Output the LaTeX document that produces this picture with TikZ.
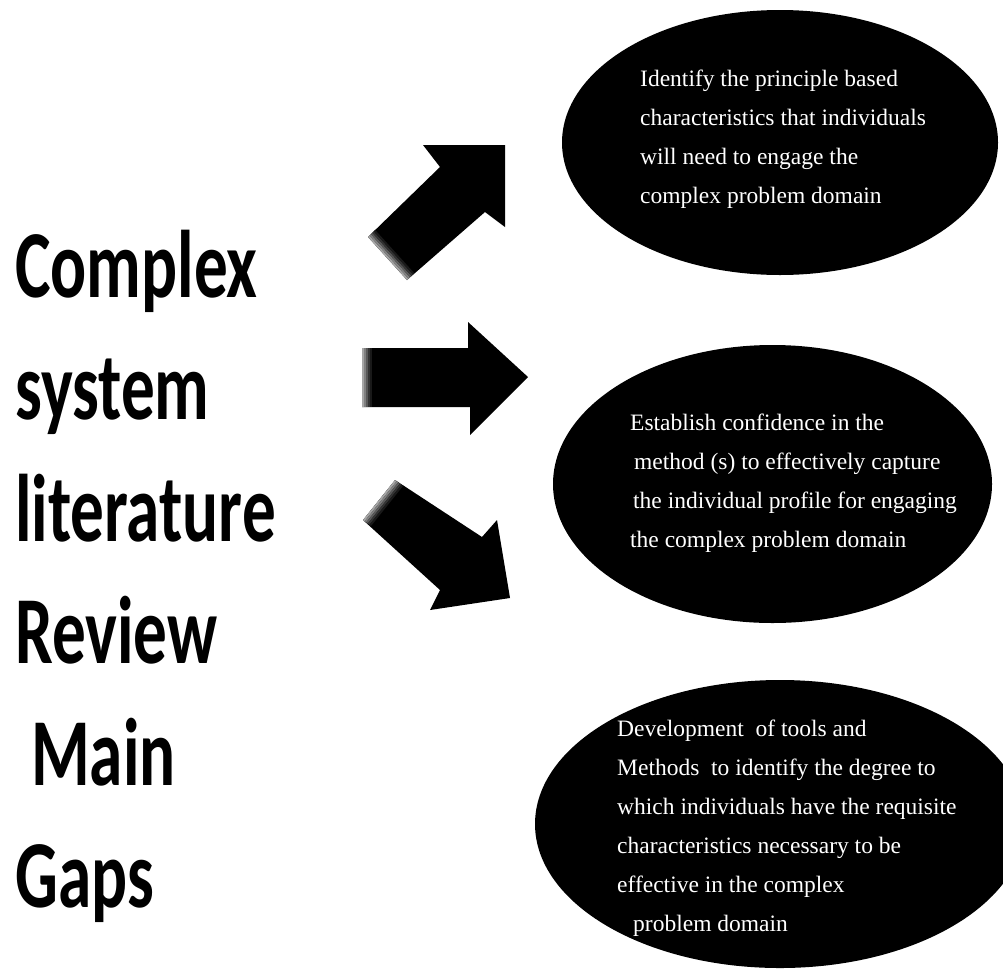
\documentclass[tikz,border=0pt]{standalone}
\usepackage{fontspec}
\usepackage{graphicx}
\setmainfont{Liberation Serif}
\newfontfamily\titlefont{Carlito}
\usetikzlibrary{shapes.geometric,calc}
\newcommand\sqz[1]{\scalebox{0.7}[1]{#1}}
\begin{document}
\begin{tikzpicture}[x=1pt,y=-1pt,
  blob/.style={ellipse, fill=black, inner sep=0pt},
  bodytext/.style={anchor=base west, align=left, inner sep=0pt, text=white, font=\fontsize{23.5}{39}\selectfont},
  titletext/.style={anchor=base west, align=left, inner sep=0pt, font=\titlefont\bfseries\fontsize{96}{122}\selectfont},
  blockarrow/.style={fill=black},
]
\fill[white] (0,0) rectangle (1003,970);
\useasboundingbox (0,0) rectangle (1003,970);

% title (anchored at the baseline of its last line)
\node[titletext] (title) at (15,907) {\sqz{Complex}\\\sqz{system}\\\sqz{literature}\\\sqz{Review}\\\hspace*{16pt}\sqz{Main}\\\sqz{Gaps}};

% ellipses
\node[blob, minimum width=436pt, minimum height=265pt] (e1) at (780,142.5) {};
\node[blob, minimum width=439pt, minimum height=278pt] (e2) at (772.5,484) {};
\node[blob, minimum width=490pt, minimum height=288pt] (e3) at (780,824) {};

% block arrows
\fill[blockarrow] (368,237) -- (440,167) -- (423,145) -- (505,145) -- (505,227) -- (485,212) -- (407,280) -- cycle;
\fill[black!35] (368,237) -- (407,280) -- (408.4,278.6) -- (369.4,235.6) -- cycle;
\fill[black!50] (369.4,235.6) -- (408.4,278.6) -- (409.9,277.2) -- (370.9,234.2) -- cycle;
\fill[black!65] (370.9,234.2) -- (409.9,277.2) -- (411.3,275.8) -- (372.3,232.8) -- cycle;
\fill[black!80] (372.3,232.8) -- (411.3,275.8) -- (412.8,274.4) -- (373.8,231.4) -- cycle;
\fill[black!90] (373.8,231.4) -- (412.8,274.4) -- (414.2,273.0) -- (375.2,230.0) -- cycle;

\fill[blockarrow] (362,348) -- (468,348) -- (468,322) -- (528,377) -- (470,435) -- (470,407) -- (362,407) -- cycle;
\fill[black!35] (362,348) rectangle (364,407);
\fill[black!50] (364,348) rectangle (366,407);
\fill[black!65] (366,348) rectangle (368,407);
\fill[black!80] (368,348) rectangle (370,407);
\fill[black!90] (370,348) rectangle (372,407);

\fill[blockarrow] (363,520) -- (395,480) -- (482,537) -- (497,520) -- (510,598) -- (430,610) -- (440,590) -- cycle;
\fill[black!35] (363,520) -- (395,480) -- (396.6,481.2) -- (364.6,521.2) -- cycle;
\fill[black!50] (364.6,521.2) -- (396.6,481.2) -- (398.2,482.4) -- (366.2,522.4) -- cycle;
\fill[black!65] (366.2,522.4) -- (398.2,482.4) -- (399.8,483.6) -- (367.8,523.6) -- cycle;
\fill[black!80] (367.8,523.6) -- (399.8,483.6) -- (401.4,484.8) -- (369.4,524.8) -- cycle;
\fill[black!90] (369.4,524.8) -- (401.4,484.8) -- (403.0,486.0) -- (371.0,526.0) -- cycle;

% ellipse texts (anchored at the baseline of their last line)
\node[bodytext] (t1) at (640,203) {Identify the principle based\\characteristics that individuals\\will need to engage the\\complex problem domain};
\node[bodytext] (t2) at (630,547) {Establish confidence in the\\\hspace*{4pt}method (s) to effectively capture\\\hspace*{3pt}the individual profile for engaging\\the complex problem domain};
\node[bodytext] (t3) at (617,931) {Development\ \ of tools and\\Methods\ \ to identify the degree to\\which individuals have the requisite\\characteristics necessary to be\\effective in the complex\\\hspace*{16pt}problem domain};
\end{tikzpicture}
\end{document}
